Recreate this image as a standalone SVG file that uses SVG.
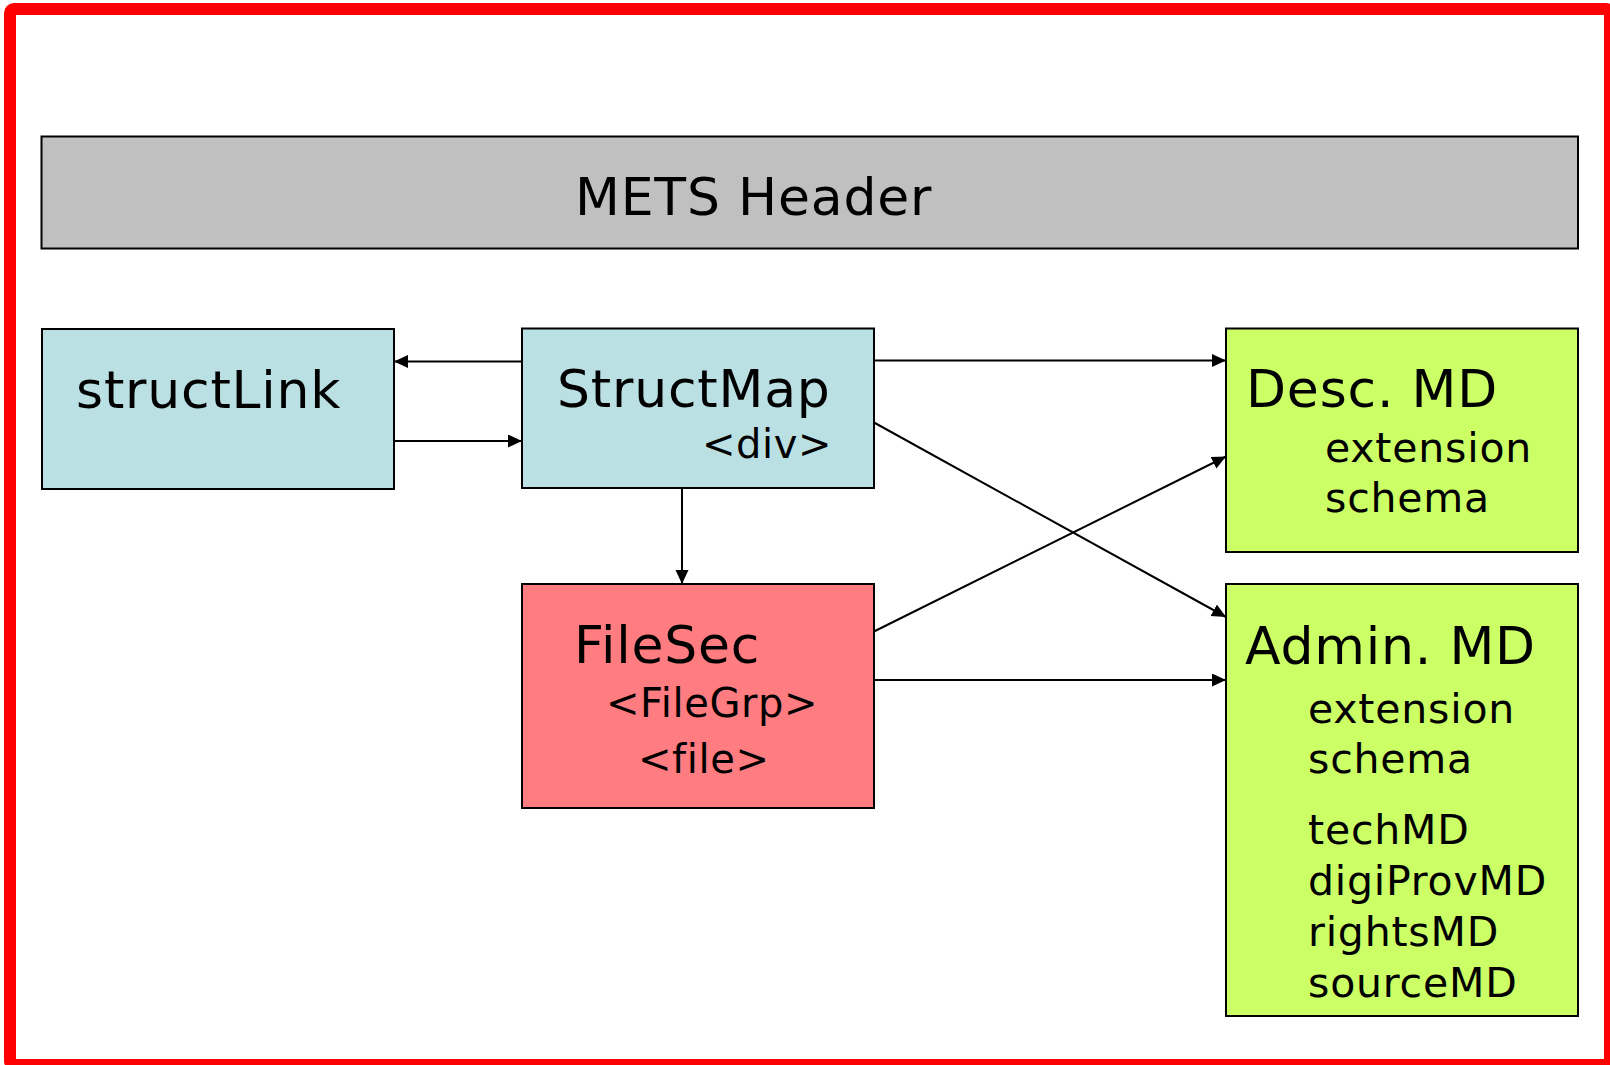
<svg xmlns="http://www.w3.org/2000/svg" width="1610" height="1065" viewBox="0 0 1610 1065">
<defs>
<style>
.box{stroke:#000;stroke-width:2}
.blue{fill:#BAE0E3}
.red{fill:#FF7C80}
.green{fill:#CCFF66}
.gray{fill:#C0C0C0}
text{font-family:"DejaVu Sans","Noto Sans",sans-serif;fill:#000}
.t52{font-size:52px;letter-spacing:0.8px}
.t41{font-size:41px;letter-spacing:0.8px}
.t40{font-size:40px;letter-spacing:0.6px}
.conn line{stroke:#000;stroke-width:2;marker-end:url(#arr)}
</style>
<marker id="arr" markerUnits="userSpaceOnUse" markerWidth="15" markerHeight="14" refX="14" refY="6.5" orient="auto">
<path d="M0,0 L14,6.5 L0,13 z" fill="#000"/>
</marker>
</defs>
<rect x="0" y="0" width="1610" height="1065" fill="#fff"/>
<rect x="10" y="9" width="1600" height="1056" rx="4" fill="none" stroke="#FF0000" stroke-width="12"/>

<g id="header">
<rect class="box gray" x="41.5" y="136.5" width="1536.5" height="112"/>
<text class="t52" x="575" y="215">METS Header</text>
</g>

<g id="structLink">
<rect class="box blue" x="42" y="329" width="352" height="160"/>
<text class="t52" x="76" y="408">structLink</text>
</g>

<g id="structMap">
<rect class="box blue" x="522" y="328.5" width="352" height="159.5"/>
<text class="t52" x="557" y="407">StructMap</text>
<text class="t40" x="702" y="458">&lt;div&gt;</text>
</g>

<g id="fileSec">
<rect class="box red" x="522" y="584" width="352" height="224"/>
<text class="t52" x="574" y="663">FileSec</text>
<text class="t40" x="606" y="717">&lt;FileGrp&gt;</text>
<text class="t40" x="638" y="773">&lt;file&gt;</text>
</g>

<g id="descMD">
<rect class="box green" x="1226" y="328.5" width="352" height="223.5"/>
<text class="t52" x="1246" y="407">Desc. MD</text>
<text class="t41" x="1325" y="462">extension</text>
<text class="t41" x="1325" y="512">schema</text>
</g>

<g id="adminMD">
<rect class="box green" x="1226" y="584" width="352" height="432"/>
<text class="t52" x="1245" y="664">Admin. MD</text>
<text class="t41" x="1308" y="723">extension</text>
<text class="t41" x="1308" y="773">schema</text>
<text class="t41" x="1308" y="844">techMD</text>
<text class="t41" x="1308" y="895">digiProvMD</text>
<text class="t41" x="1308" y="946">rightsMD</text>
<text class="t41" x="1308" y="997">sourceMD</text>
</g>

<g id="connectors" class="conn">
<line x1="522" y1="361.5" x2="394" y2="361.5"/>
<line x1="394" y1="441" x2="522" y2="441"/>
<line x1="682" y1="488" x2="682" y2="584"/>
<line x1="874" y1="360.5" x2="1226" y2="360.5"/>
<line x1="874" y1="422.5" x2="1226" y2="617"/>
<line x1="874" y1="631.5" x2="1226" y2="456.5"/>
<line x1="874" y1="680" x2="1226" y2="680"/>
</g>
</svg>
